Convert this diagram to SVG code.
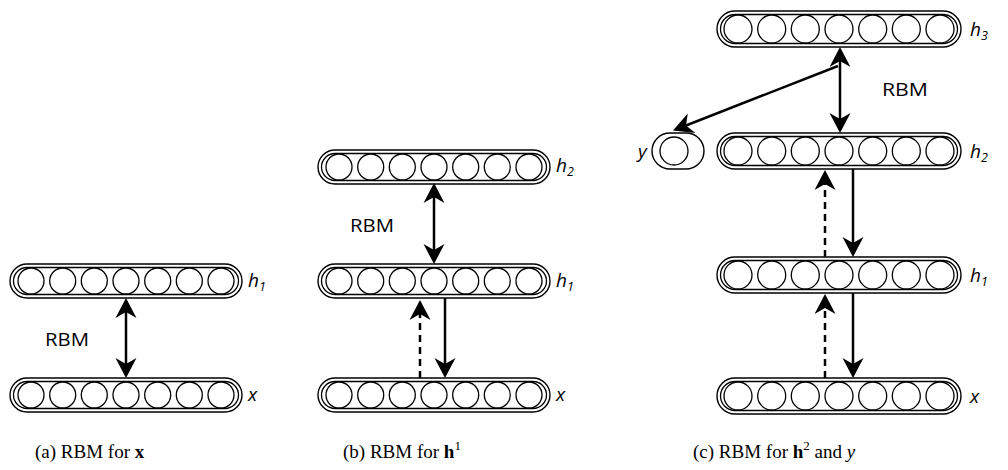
<svg xmlns="http://www.w3.org/2000/svg" width="1008" height="470" viewBox="0 0 1008 470">
  <style>
    .outer { fill: none; stroke: #000; stroke-width: 1.4; }
    .inner { fill: none; stroke: #000; stroke-width: 1.3; }
    .unit { fill: #fff; stroke: #000; stroke-width: 1.3; }
    .lbl { font-family: "Open Sans", "Liberation Sans", sans-serif; font-style: italic; font-size: 19px; fill: #000; }
    .sub { font-size: 12.5px; }
    .rbm { font-family: "Open Sans", "Liberation Sans", sans-serif; font-size: 18px; fill: #000; }
    .cap { font-family: "Liberation Serif", serif; font-size: 19px; fill: #000; }
    .conn { stroke: #000; stroke-width: 2.5; fill: none; }
    .dash { stroke-dasharray: 7 5; }
  </style>
  <defs>
    <!-- notched dart head; the line ends at the notch (refX) -->
    <marker id="head" markerUnits="userSpaceOnUse" markerWidth="24" markerHeight="24" viewBox="0 -12 24 24" refX="6" refY="0" orient="auto-start-reverse" overflow="visible">
      <path d="M0,-10.5 L20,0 L0,10.5 L6,0 Z" fill="#000"/>
    </marker>
    <!-- layer of seven units, small scale -->
    <g id="layerS">
      <rect class="outer" x="0" y="0" width="232" height="34" rx="17"/>
      <rect class="inner" x="3.5" y="3.5" width="225" height="27" rx="13.5"/>
      <circle class="unit" cx="21" cy="17" r="13"/>
      <circle class="unit" cx="52.7" cy="17" r="13"/>
      <circle class="unit" cx="84.3" cy="17" r="13"/>
      <circle class="unit" cx="116" cy="17" r="13"/>
      <circle class="unit" cx="147.7" cy="17" r="13"/>
      <circle class="unit" cx="179.3" cy="17" r="13"/>
      <circle class="unit" cx="211" cy="17" r="13"/>
    </g>
    <!-- layer of seven units, large scale -->
    <g id="layerL">
      <rect class="outer" x="0" y="0" width="244" height="36" rx="18"/>
      <rect class="inner" x="3.5" y="3.5" width="237" height="29" rx="14.5"/>
      <circle class="unit" cx="21" cy="18" r="14"/>
      <circle class="unit" cx="54.7" cy="18" r="14"/>
      <circle class="unit" cx="88.3" cy="18" r="14"/>
      <circle class="unit" cx="122" cy="18" r="14"/>
      <circle class="unit" cx="155.7" cy="18" r="14"/>
      <circle class="unit" cx="189.3" cy="18" r="14"/>
      <circle class="unit" cx="223" cy="18" r="14"/>
    </g>
  </defs>

  <!-- (a) -->
  <g id="a_h1"><use href="#layerS" x="10" y="264"/><text class="lbl" x="248" y="287">h<tspan class="sub" dy="4">1</tspan></text></g>
  <g id="a_x"><use href="#layerS" x="10" y="378"/><text class="lbl" x="248" y="401">x</text></g>

  <!-- (b) -->
  <g id="b_h2"><use href="#layerS" x="318" y="150"/><text class="lbl" x="556" y="172">h<tspan class="sub" dy="4">2</tspan></text></g>
  <g id="b_h1"><use href="#layerS" x="318" y="264"/><text class="lbl" x="556" y="287">h<tspan class="sub" dy="4">1</tspan></text></g>
  <g id="b_x"><use href="#layerS" x="318" y="378"/><text class="lbl" x="556" y="401">x</text></g>

  <!-- (c) -->
  <g id="c_h3"><use href="#layerL" x="717" y="11"/><text class="lbl" x="970" y="36">h<tspan class="sub" dy="4">3</tspan></text></g>
  <g id="c_y">
    <rect class="outer" x="652" y="133" width="52" height="36" rx="18"/>
    <circle class="unit" cx="674" cy="151" r="14"/>
    <text class="lbl" x="638" y="158">y</text>
  </g>
  <g id="c_h2"><use href="#layerL" x="717" y="133"/><text class="lbl" x="970" y="158">h<tspan class="sub" dy="4">2</tspan></text></g>
  <g id="c_h1"><use href="#layerL" x="717" y="257"/><text class="lbl" x="970" y="282">h<tspan class="sub" dy="4">1</tspan></text></g>
  <g id="c_x"><use href="#layerL" x="717" y="378"/><text class="lbl" x="970" y="403">x</text></g>

  <!-- connectors -->
  <g id="connectors">
    <!-- (a) -->
    <line class="conn" x1="126" y1="312" x2="126" y2="364" marker-start="url(#head)" marker-end="url(#head)"/>
    <!-- (b) -->
    <line class="conn" x1="434" y1="197" x2="434" y2="250" marker-start="url(#head)" marker-end="url(#head)"/>
    <line class="conn dash" x1="420" y1="378" x2="420" y2="314" marker-end="url(#head)"/>
    <line class="conn" x1="445" y1="298" x2="445" y2="364" marker-end="url(#head)"/>
    <!-- (c) -->
    <line class="conn" x1="840" y1="61" x2="840" y2="119" marker-start="url(#head)" marker-end="url(#head)"/>
    <line class="conn" x1="838" y1="66" x2="686" y2="125.5" marker-end="url(#head)"/>
    <line class="conn dash" x1="825" y1="257" x2="825" y2="184" marker-end="url(#head)"/>
    <line class="conn" x1="853" y1="169" x2="853" y2="243" marker-end="url(#head)"/>
    <line class="conn dash" x1="825" y1="378" x2="825" y2="308" marker-end="url(#head)"/>
    <line class="conn" x1="853" y1="293" x2="853" y2="364" marker-end="url(#head)"/>
  </g>

  <!-- connector labels -->
  <text class="rbm" x="45" y="346" textLength="44" lengthAdjust="spacingAndGlyphs">RBM</text>
  <text class="rbm" x="350" y="232" textLength="44" lengthAdjust="spacingAndGlyphs">RBM</text>
  <text class="rbm" x="882" y="96" textLength="46" lengthAdjust="spacingAndGlyphs">RBM</text>

  <!-- captions -->
  <text class="cap" x="35" y="458">(a)  RBM for <tspan font-weight="bold">x</tspan></text>
  <text class="cap" x="343" y="458">(b)  RBM for <tspan font-weight="bold">h</tspan><tspan font-size="13" dy="-8">1</tspan></text>
  <text class="cap" x="693" y="458">(c)  RBM for <tspan font-weight="bold">h</tspan><tspan font-size="13" dy="-8">2</tspan><tspan dy="8"> and </tspan><tspan font-style="italic">y</tspan></text>
</svg>
